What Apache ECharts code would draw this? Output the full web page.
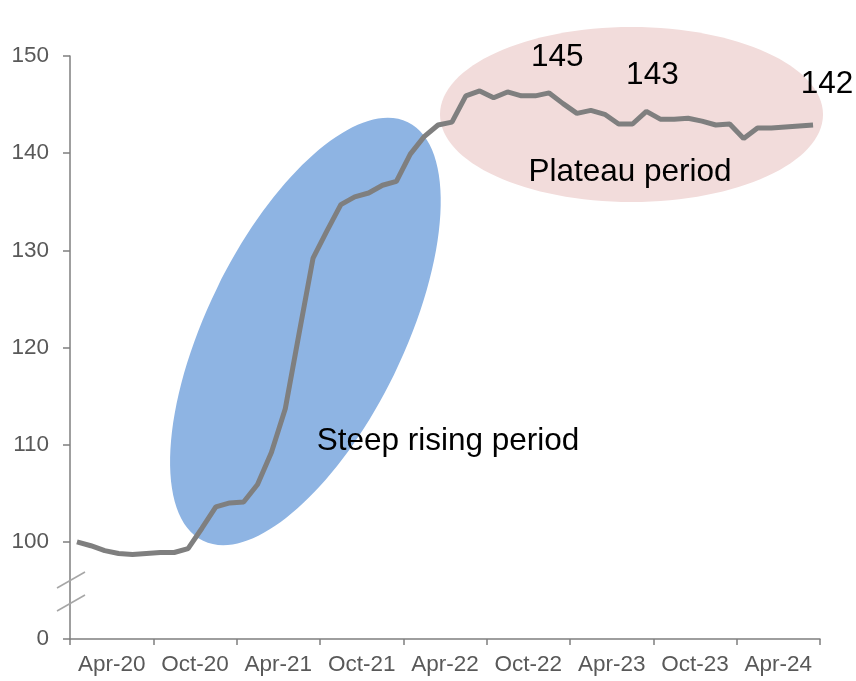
<!DOCTYPE html>
<html>
<head>
<meta charset="utf-8">
<script src="https://cdn.jsdelivr.net/npm/echarts@6/dist/echarts.min.js"></script>
<style>
  html, body { margin: 0; padding: 0; background: #fff; }
  #chart { width: 856px; height: 681px; }
</style>
</head>
<body>
<div id="chart"></div>
<script>
// half-year labels shown on the x axis
const periodLabels = ['Apr-20', 'Oct-20', 'Apr-21', 'Oct-21', 'Apr-22', 'Oct-22', 'Apr-23', 'Oct-23', 'Apr-24']

// monthly index, Jan-20 .. Jun-24
const monthNames = ['Jan', 'Feb', 'Mar', 'Apr', 'May', 'Jun', 'Jul', 'Aug', 'Sep', 'Oct', 'Nov', 'Dec']
const months = []
for (let y = 20; y <= 24; y++) {
  for (let m = 0; m < 12; m++) {
    if (y === 24 && m > 5) break
    months.push(monthNames[m] + '-' + y)
  }
}

const indexValues = [
  100.0, 99.6, 99.1, 98.8, 98.7, 98.8, 98.9, 98.9, 99.3, 101.4,
  103.6, 104.0, 104.1, 105.9, 109.2, 113.7, 121.5, 129.2, 132.0, 134.7,
  135.5, 135.9, 136.7, 137.1, 139.9, 141.7, 142.9, 143.2, 145.9, 146.4,
  145.7, 146.3, 145.9, 145.9, 146.2, 145.1, 144.1, 144.4, 144.0, 143.0,
  143.0, 144.3, 143.5, 143.5, 143.6, 143.3, 142.9, 143.0, 141.5, 142.6,
  142.6, 142.7, 142.8, 142.9
]

// callout numbers: [point index, text, offset]
const callouts = [
  [34, '145', [8, -36]],
  [41, '143', [6, -36]],
  [53, '142', [14, -41]]
]

const FONT = "'Liberation Sans', Arial, sans-serif"
const AXIS_GRAY = '#7f7f7f'
const LABEL_GRAY = '#595959'

const seriesData = indexValues.map((v, i) => {
  const c = callouts.find(c => c[0] === i)
  if (!c) return v
  return {
    value: v,
    label: {
      show: true,
      position: 'inside',
      formatter: c[1],
      offset: c[2],
      fontSize: 31.5,
      color: '#000',
      fontFamily: FONT
    }
  }
})

const chart = echarts.init(document.getElementById('chart'), null, { renderer: 'canvas' })

chart.setOption({
  animation: false,
  backgroundColor: '#fff',
  grid: { left: 70, right: 36, top: 56, bottom: 42, containLabel: false },
  xAxis: [
    {
      type: 'category',
      data: periodLabels,
      boundaryGap: true,
      axisLine: { lineStyle: { color: AXIS_GRAY, width: 1.5 } },
      axisTick: { show: true, length: 6, lineStyle: { color: AXIS_GRAY, width: 1.5 } },
      axisLabel: { color: LABEL_GRAY, fontSize: 22.5, fontFamily: FONT, margin: 14, interval: 0 },
      splitLine: { show: false }
    },
    {
      type: 'category',
      data: months,
      boundaryGap: true,
      position: 'bottom',
      show: false
    }
  ],
  yAxis: {
    type: 'value',
    min: 90,
    max: 150,
    interval: 10,
    axisLine: { show: true, lineStyle: { color: AXIS_GRAY, width: 1.5 } },
    axisTick: { show: true, length: 7, lineStyle: { color: AXIS_GRAY, width: 1.5 } },
    axisLabel: {
      color: LABEL_GRAY, fontSize: 22.5, fontFamily: FONT, margin: 21,
      formatter: v => (v === 90 ? '0' : String(v))
    },
    splitLine: { show: false }
  },
  graphic: [
    {
      type: 'ellipse', z: -10,
      x: 305.5, y: 331.5, rotation: -0.455,
      shape: { cx: 0, cy: 0, rx: 98.5, ry: 233 },
      style: { fill: '#8eb4e3' }
    },
    {
      type: 'ellipse', z: -10,
      x: 631.5, y: 114.5,
      shape: { cx: 0, cy: 0, rx: 191.5, ry: 87.5 },
      style: { fill: '#f2dcdb' }
    },
    {
      type: 'text', z: 10, x: 448, y: 441,
      style: { text: 'Steep rising period', fill: '#000', fontSize: 31.5, fontFamily: FONT, textAlign: 'center', textVerticalAlign: 'middle' }
    },
    {
      type: 'text', z: 10, x: 630, y: 172,
      style: { text: 'Plateau period', fill: '#000', fontSize: 31.5, fontFamily: FONT, textAlign: 'center', textVerticalAlign: 'middle' }
    },
    // axis break marks
    {
      type: 'line', z: 10,
      shape: { x1: 57, y1: 588, x2: 85, y2: 572 },
      style: { stroke: '#a6a6a6', lineWidth: 1.5 }
    },
    {
      type: 'line', z: 10,
      shape: { x1: 57, y1: 611, x2: 85, y2: 595 },
      style: { stroke: '#a6a6a6', lineWidth: 1.5 }
    }
  ],
  series: [
    {
      type: 'line',
      xAxisIndex: 1,
      data: seriesData,
      smooth: false,
      showSymbol: true,
      symbol: 'circle',
      symbolSize: 0,
      lineStyle: { color: '#7f7f7f', width: 5 },
      itemStyle: { color: '#7f7f7f' },
      z: 5
    }
  ]
})
</script>
</body>
</html>
